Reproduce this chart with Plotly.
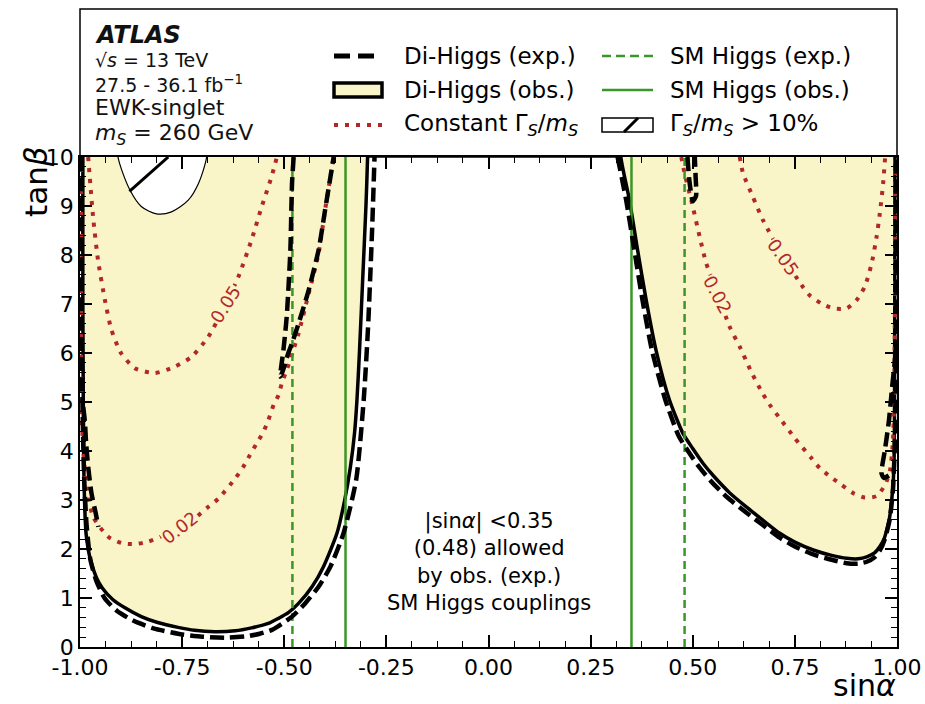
import plotly.graph_objects as go

# ---------------- data ----------------
# Di-Higgs observed exclusion contour (left and right islands)
obs_left_x = [-0.993, -0.993, -0.993, -0.992, -0.991, -0.989, -0.985, -0.975, -0.96, -0.945, -0.92, -0.89,
              -0.85, -0.81, -0.76, -0.72, -0.67, -0.62, -0.58, -0.539, -0.514, -0.49, -0.465, -0.432,
              -0.404, -0.371, -0.352, -0.338, -0.328, -0.322, -0.316, -0.308, -0.300, -0.296, -0.296]
obs_left_y = [10.5, 10.0, 7.0, 5.0, 3.8, 3.0, 2.3, 1.8, 1.42, 1.2, 0.97, 0.8,
              0.62, 0.5, 0.4, 0.34, 0.31, 0.33, 0.39, 0.48, 0.585, 0.7, 0.89, 1.23,
              1.64, 2.32, 3.0, 3.68, 4.36, 5.04, 6.0, 7.5, 9.0, 10.0, 10.5]
obs_right_x = [0.324, 0.324, 0.345, 0.365, 0.386, 0.41, 0.443, 0.476, 0.50, 0.525, 0.55, 0.59, 0.631,
               0.67, 0.713, 0.75, 0.795, 0.84, 0.877, 0.905, 0.926, 0.945, 0.958, 0.968, 0.975, 0.982,
               0.987, 0.991, 0.993, 0.994, 0.995, 0.995]
obs_right_y = [10.5, 10.0, 9.12, 8.1, 7.08, 6.06, 5.04, 4.36, 4.05, 3.75, 3.5, 3.15, 2.86,
               2.6, 2.32, 2.14, 1.98, 1.87, 1.81, 1.8, 1.84, 1.92, 2.05, 2.2, 2.39, 2.65,
               3.0, 3.4, 3.88, 5.0, 10.0, 10.5]

# Di-Higgs expected exclusion contour (main curves and small islands)
exp_left_x = [-0.996, -0.996, -0.994, -0.99, -0.984, -0.975, -0.96, -0.94, -0.91, -0.87, -0.82, -0.76,
              -0.70, -0.64, -0.59, -0.56, -0.53, -0.481, -0.449, -0.416, -0.387, -0.355, -0.324,
              -0.3055, -0.295, -0.285, -0.279]
exp_left_y = [10.0, 7.0, 5.0, 3.5, 2.5, 1.8, 1.35, 1.0, 0.74, 0.54, 0.38, 0.27,
              0.21, 0.19, 0.22, 0.27, 0.35, 0.62, 0.89, 1.23, 1.64, 2.32, 3.41,
              5.04, 6.5, 8.5, 10.0]
exp_right_x = [0.316, 0.337, 0.357, 0.377, 0.40, 0.433, 0.466, 0.49, 0.515, 0.545, 0.585, 0.63, 0.67,
               0.713, 0.75, 0.795, 0.84, 0.877, 0.905, 0.926, 0.945, 0.958, 0.97, 0.982, 0.99, 0.996, 0.998]
exp_right_y = [10.0, 9.12, 8.1, 7.08, 6.06, 5.04, 4.3, 3.98, 3.68, 3.38, 3.05, 2.75, 2.5,
               2.23, 2.05, 1.89, 1.78, 1.71, 1.7, 1.74, 1.83, 1.97, 2.2, 2.6, 3.2, 4.5, 10.0]
exp_isl_a_x = [-0.477, -0.481, -0.485, -0.494, -0.502, -0.51, -0.505, -0.49, -0.481, -0.465, -0.44, -0.416, -0.40, -0.379]
exp_isl_a_y = [10.0, 9.46, 8.1, 6.74, 6.06, 5.52, 5.6, 6.0, 6.2, 6.6, 7.29, 8.1, 8.92, 10.0]
exp_isl_b_x = [0.487, 0.492, 0.50, 0.508, 0.507, 0.505]
exp_isl_b_y = [10.0, 9.5, 9.1, 9.2, 9.6, 10.0]
exp_isl_c_x = [-0.992, -0.988, -0.985, -0.98, -0.972, -0.962, -0.955]
exp_isl_c_y = [4.9, 4.6, 4.16, 3.68, 3.14, 2.75, 2.45]
exp_isl_d_x = [0.997, 0.988, 0.98, 0.97, 0.962, 0.968, 0.98]
exp_isl_d_y = [6.0, 5.3, 4.6, 4.0, 3.55, 3.45, 3.5]

# Constant Gamma_S/m_S contours
g005_left_x = [-0.98, -0.968, -0.956, -0.939, -0.923, -0.899, -0.866, -0.817, -0.768, -0.727, -0.686,
               -0.65, -0.612, -0.58, -0.555, -0.531, -0.518]
g005_left_y = [10.0, 8.78, 7.9, 7.08, 6.47, 5.99, 5.69, 5.59, 5.72, 5.92, 6.33,
               6.88, 7.56, 8.31, 8.99, 9.6, 10.0]
g002_left_x = [-0.997, -0.997, -0.995, -0.99, -0.985, -0.968, -0.931, -0.898, -0.866, -0.833, -0.79,
               -0.751, -0.72, -0.686, -0.661, -0.62, -0.6, -0.584, -0.567, -0.551, -0.539, -0.526,
               -0.514, -0.506, -0.494, -0.48, -0.465, -0.44, -0.416, -0.40, -0.379]
g002_left_y = [10.0, 6.0, 4.5, 3.8, 3.34, 2.66, 2.25, 2.12, 2.1, 2.15, 2.3,
               2.45, 2.62, 2.86, 3.03, 3.44, 3.68, 3.92, 4.16, 4.39, 4.63, 4.94,
               5.14, 5.38, 5.65, 6.0, 6.4, 7.22, 8.03, 8.92, 10.0]
g002_right_x = [0.472, 0.48, 0.50, 0.517, 0.533, 0.561, 0.59, 0.615, 0.643, 0.672, 0.692, 0.713, 0.75,
                0.791, 0.811, 0.836, 0.864, 0.893, 0.921, 0.95, 0.971, 0.983, 0.99, 0.993, 0.995, 0.996]
g002_right_y = [10.0, 9.67, 8.99, 8.37, 7.83, 7.22, 6.54, 6.13, 5.62, 5.16, 4.9, 4.67, 4.26,
                3.85, 3.65, 3.48, 3.31, 3.14, 3.05, 3.08, 3.31, 3.61, 4.2, 5.0, 7.0, 10.0]
g005_right_x = [0.615, 0.623, 0.647, 0.672, 0.721, 0.766, 0.786, 0.815, 0.844, 0.877, 0.901, 0.921,
                0.938, 0.95, 0.958, 0.966, 0.971]
g005_right_y = [10.0, 9.67, 9.19, 8.71, 7.97, 7.39, 7.18, 7.01, 6.91, 6.91, 7.08, 7.35,
                7.83, 8.37, 8.85, 9.46, 10.0]
gamma_labels = ["0.05", "0.02", "0.02", "0.05"]
gamma_label_x = [-0.645, -0.755, 0.561, 0.722]
gamma_label_y = [7.0, 2.43, 7.2, 7.95]
gamma_label_angle = [-58, -38, 62, 55]

# Gamma_S/m_S > 10% region and its (single visible) hatch stroke
wide_x = [-0.907, -0.907, -0.878, -0.85, -0.813, -0.776, -0.735, -0.71, -0.69, -0.69]
wide_y = [10.5, 10.0, 9.33, 8.99, 8.84, 8.88, 9.12, 9.46, 10.0, 10.5]
wide_hatch_x = [-0.879, -0.784]
wide_hatch_y = [9.3, 10.0]

# SM Higgs coupling limits on |sin alpha|
sm_exp_limit = 0.48
sm_obs_limit = 0.35

# axes
x_tickvals = [-1.0, -0.75, -0.5, -0.25, 0.0, 0.25, 0.5, 0.75, 1.0]
x_ticktext = ["-1.00", "-0.75", "-0.50", "-0.25", "0.00", "0.25", "0.50", "0.75", "1.00"]
y_tickvals = [0, 1, 2, 3, 4, 5, 6, 7, 8, 9, 10]
y_ticktext = ["0", "1", "2", "3", "4", "5", "6", "7", "8", "9", "10"]
x_minor_vals = [-1 + 0.0625 * i for i in range(33)]
y_minor_vals = [0.2 * i for i in range(51)]

# legend entries: (label, column, row, style)
legend_entries = [
    ("Di-Higgs (exp.)", 0, 0, "exp"),
    ("Di-Higgs (obs.)", 0, 1, "obs"),
    ("Constant Γ<sub><i>S</i></sub>/<i>m</i><sub><i>S</i></sub>", 0, 2, "width"),
    ("SM Higgs (exp.)", 1, 0, "smexp"),
    ("SM Higgs (obs.)", 1, 1, "smobs"),
    ("Γ<sub><i>S</i></sub>/<i>m</i><sub><i>S</i></sub> &gt; 10%", 1, 2, "wide"),
]


def join(*parts):
    xs, ys = [], []
    for i, (px, py) in enumerate(parts):
        if i:
            xs.append(None)
            ys.append(None)
        xs += list(px)
        ys += list(py)
    return xs, ys


FONT = "DejaVu Sans"
YELLOW = "#faf4c9"
RED = "#b2282a"
GREEN = "#3a9628"

# page geometry (pixels)
W, H = 925, 704
ML, MR, MT, MB = 80, 28, 157, 57
PW, PH = W - ML - MR, H - MT - MB


def px2paper(x, y):
    return (x - ML) / PW, (H - MB - y) / PH


fig = go.Figure()

ox, oy = join((obs_left_x, obs_left_y), (obs_right_x, obs_right_y))
fig.add_trace(go.Scatter(x=ox, y=oy, mode="lines", fill="toself", fillcolor=YELLOW,
                         line=dict(color="black", width=3.5, shape="spline", smoothing=0.6),
                         name="Di-Higgs (obs.)", showlegend=False, hoverinfo="skip"))

fig.add_trace(go.Scatter(x=wide_x, y=wide_y, mode="lines", fill="toself", fillcolor="white",
                         line=dict(color="black", width=1.2, shape="spline", smoothing=0.8),
                         name="Γ/m > 10%", showlegend=False, hoverinfo="skip"))
fig.add_trace(go.Scatter(x=wide_hatch_x, y=wide_hatch_y, mode="lines",
                         line=dict(color="black", width=3), showlegend=False, hoverinfo="skip"))

gx, gy = join((g005_left_x, g005_left_y), (g002_left_x, g002_left_y),
              (g002_right_x, g002_right_y), (g005_right_x, g005_right_y))
fig.add_trace(go.Scatter(x=gx, y=gy, mode="lines",
                         line=dict(color=RED, width=4, dash="4px,7px", shape="spline", smoothing=0.6),
                         name="Constant Γ/m", showlegend=False, hoverinfo="skip"))

sx, sy = join(([-sm_exp_limit, -sm_exp_limit], [0, 10]), ([sm_exp_limit, sm_exp_limit], [0, 10]))
fig.add_trace(go.Scatter(x=sx, y=sy, mode="lines", line=dict(color=GREEN, width=2.5, dash="8px,5px"),
                         name="SM Higgs (exp.)", showlegend=False, hoverinfo="skip"))
sx, sy = join(([-sm_obs_limit, -sm_obs_limit], [0, 10]), ([sm_obs_limit, sm_obs_limit], [0, 10]))
fig.add_trace(go.Scatter(x=sx, y=sy, mode="lines", line=dict(color=GREEN, width=2.5),
                         name="SM Higgs (obs.)", showlegend=False, hoverinfo="skip"))

ex, ey = join((exp_left_x, exp_left_y), (exp_right_x, exp_right_y), (exp_isl_a_x, exp_isl_a_y),
              (exp_isl_b_x, exp_isl_b_y), (exp_isl_c_x, exp_isl_c_y), (exp_isl_d_x, exp_isl_d_y))
fig.add_trace(go.Scatter(x=ex, y=ey, mode="lines",
                         line=dict(color="black", width=4.5, dash="14px,6px", shape="spline", smoothing=0.6),
                         name="Di-Higgs (exp.)", showlegend=False, hoverinfo="skip"))

# invisible trace so that the mirrored (top / right) axes are drawn with their ticks
fig.add_trace(go.Scatter(x=[-1, 1], y=[0, 10], xaxis="x2", yaxis="y2", mode="lines",
                         line=dict(width=0), showlegend=False, hoverinfo="skip"))

annotations = []
shapes = [dict(type="rect", xref="paper", yref="paper", x0=0, x1=1, y0=1, y1=px2paper(0, 9)[1],
               line=dict(color="black", width=1.5), fillcolor="white", layer="below")]

for t, lx, ly, ang in zip(gamma_labels, gamma_label_x, gamma_label_y, gamma_label_angle):
    annotations.append(dict(x=lx, y=ly, xref="x", yref="y", text=t, showarrow=False, textangle=ang,
                            font=dict(family=FONT, size=18, color=RED), bgcolor=YELLOW, borderpad=0))

annotations.append(dict(x=0.0, y=1.73, xref="x", yref="y", showarrow=False, align="center",
                        text="|sin<i>α</i>| &lt;0.35<br>(0.48) allowed<br>by obs. (exp.)<br>SM Higgs couplings",
                        font=dict(family=FONT, size=21, color="black")))

# experiment labels in the top box
top_lines = [("<b><i>ATLAS</i></b>", 24, 35),
             ("√<i>s</i> = 13 TeV", 19, 60),
             ("27.5 - 36.1 fb<sup>−1</sup>", 19, 84),
             ("EWK-singlet", 22, 107),
             ("<i>m</i><sub><i>S</i></sub> = 260 GeV", 22, 135)]
for txt, fs, ypx in top_lines:
    xx, yy = px2paper(93, ypx)
    annotations.append(dict(x=xx, y=yy, xref="paper", yref="paper", xanchor="left", yanchor="middle",
                            text=txt, showarrow=False, font=dict(family=FONT, size=fs, color="#111111")))

# hand-built two-column legend
col_sym = [(334, 382), (602, 653)]
col_txt = [402, 668]
row_y = [56, 90, 125]
for label, col, row, style in legend_entries:
    x0p, x1p = col_sym[col]
    yc = row_y[row]
    xa, ya = px2paper(x0p, yc)
    xb, _ = px2paper(x1p, yc)
    if style == "exp":
        shapes.append(dict(type="line", xref="paper", yref="paper", x0=xa, x1=xb, y0=ya, y1=ya,
                           line=dict(color="black", width=5, dash="16px,8px")))
    elif style == "width":
        shapes.append(dict(type="line", xref="paper", yref="paper", x0=xa, x1=xb, y0=ya, y1=ya,
                           line=dict(color=RED, width=4, dash="4px,7px")))
    elif style == "smexp":
        shapes.append(dict(type="line", xref="paper", yref="paper", x0=xa, x1=xb, y0=ya, y1=ya,
                           line=dict(color=GREEN, width=2.5, dash="9px,5px")))
    elif style == "smobs":
        shapes.append(dict(type="line", xref="paper", yref="paper", x0=xa, x1=xb, y0=ya, y1=ya,
                           line=dict(color=GREEN, width=2.5)))
    elif style == "obs":
        _, yt = px2paper(0, yc - 7)
        _, yb = px2paper(0, yc + 7)
        shapes.append(dict(type="rect", xref="paper", yref="paper", x0=xa, x1=xb, y0=yb, y1=yt,
                           fillcolor=YELLOW, line=dict(color="black", width=3.5)))
    elif style == "wide":
        _, yt = px2paper(0, yc - 7)
        _, yb = px2paper(0, yc + 7)
        shapes.append(dict(type="rect", xref="paper", yref="paper", x0=xa, x1=xb, y0=yb, y1=yt,
                           fillcolor="white", line=dict(color="black", width=1.5)))
        hx0, _ = px2paper(x0p + 22, yc)
        hx1, _ = px2paper(x0p + 36, yc)
        shapes.append(dict(type="line", xref="paper", yref="paper", x0=hx0, x1=hx1, y0=yb, y1=yt,
                           line=dict(color="black", width=3)))
    tx, ty = px2paper(col_txt[col], yc)
    annotations.append(dict(x=tx, y=ty, xref="paper", yref="paper", xanchor="left", yanchor="middle",
                            text=label, showarrow=False, font=dict(family=FONT, size=23, color="black")))

# axis titles
tx, ty = px2paper(36, 182)
annotations.append(dict(x=tx, y=ty, xref="paper", yref="paper", xanchor="center", yanchor="middle",
                        text="tan<i>β</i>", textangle=-90, showarrow=False,
                        font=dict(family=FONT, size=31, color="black")))
tx, ty = px2paper(898, 685)
annotations.append(dict(x=tx, y=ty, xref="paper", yref="paper", xanchor="right", yanchor="middle",
                        text="sin<i>α</i>", showarrow=False, font=dict(family=FONT, size=30, color="black")))

tick_common = dict(showgrid=False, zeroline=False, showline=True, linecolor="black", linewidth=1.5,
                   mirror=False, ticks="inside", ticklen=12, tickwidth=1.6, tickcolor="black",
                   tickfont=dict(family=FONT, size=22, color="black"), automargin=False)
x_minor = dict(tickmode="array", tickvals=x_minor_vals, ticks="inside", ticklen=6, tickwidth=1.3,
               tickcolor="black", showgrid=False)
y_minor = dict(tickmode="array", tickvals=y_minor_vals, ticks="inside", ticklen=6, tickwidth=1.3,
               tickcolor="black", showgrid=False)

fig.update_layout(
    width=W, height=H,
    margin=dict(l=ML, r=MR, t=MT, b=MB),
    paper_bgcolor="white", plot_bgcolor="white",
    font=dict(family=FONT, color="black"),
    showlegend=False,
    xaxis=dict(range=[-1, 1], tickmode="array", tickvals=x_tickvals, ticktext=x_ticktext,
               minor=x_minor, **tick_common),
    yaxis=dict(range=[0, 10], tickmode="array", tickvals=y_tickvals, ticktext=y_ticktext,
               minor=y_minor, **tick_common),
    xaxis2=dict(range=[-1, 1], overlaying="x", side="top", anchor="y2", tickmode="array",
                tickvals=x_tickvals, showticklabels=False, minor=x_minor, **tick_common),
    yaxis2=dict(range=[0, 10], overlaying="y", side="right", anchor="x2", tickmode="array",
                tickvals=y_tickvals, showticklabels=False, minor=y_minor, **tick_common),
    shapes=shapes,
    annotations=annotations,
)

fig.write_html("out.html")
